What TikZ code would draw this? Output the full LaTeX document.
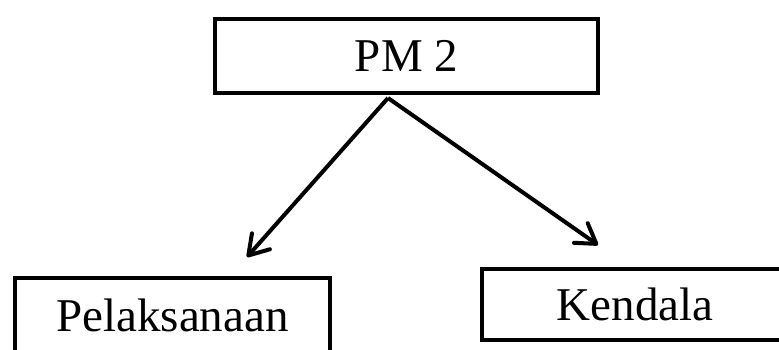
\documentclass[tikz,border=0pt]{standalone}
\usepackage{fontspec}
\setmainfont{Liberation Serif}
\usetikzlibrary{arrows.meta}
\begin{document}
\begin{tikzpicture}[x=1pt,y=-1pt,
  box/.style={draw=black, line width=4pt, inner sep=0pt, font=\fontsize{47}{50}\selectfont},
  arr/.style={line width=4pt, -{Straight Barb[length=19pt,width=24pt,line cap=round,line join=round]}}]
\useasboundingbox (0,0) rectangle (779,349);
\fill[white] (0,0) rectangle (779,349);
\node[box, minimum width=383pt, minimum height=74pt] (pm) at (406.5,56) {PM 2};
\node[box, minimum width=315pt, minimum height=74pt] (pel) at (172.5,315) {Pelaksanaan};
\node[box, minimum width=306pt, minimum height=71pt] (ken) at (635,304.5) {Kendala};
\coordinate (s) at (388,98);
\coordinate (t1) at (247,257);
\coordinate (t2) at (598,245);
\draw[arr] (s) -- (t1);
\draw[arr] (s) -- (t2);
\end{tikzpicture}
\end{document}
